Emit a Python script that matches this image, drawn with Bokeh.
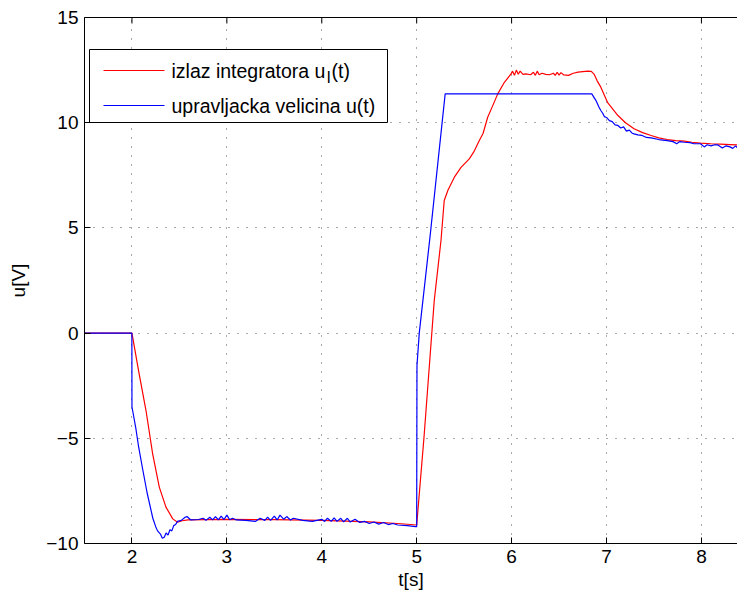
from bokeh.plotting import figure
from bokeh.models import LinearAxis, FixedTicker, Range1d
from bokeh.core.properties import value
from bokeh.embed import file_html
from bokeh.resources import INLINE

# ---- data ----
t_u = [1.5, 1.999, 2.0, 2.02, 2.04, 2.07, 2.11, 2.16, 2.20, 2.22, 2.25, 2.27, 2.30, 2.32, 2.34,
       2.36, 2.38, 2.40, 2.42, 2.44, 2.46, 2.48, 2.52, 2.56, 2.58, 2.62, 2.70,
       2.75, 2.78, 2.82, 2.85, 2.88, 2.91, 2.94, 2.97, 3.0, 3.03, 3.06, 3.1, 3.2, 3.3,
       3.35, 3.4, 3.43, 3.46, 3.5, 3.53, 3.56, 3.6, 3.63, 3.67, 3.7, 3.8, 3.9, 4.0,
       4.03, 4.06, 4.1, 4.13, 4.16, 4.2, 4.23, 4.27, 4.3, 4.35, 4.4, 4.45, 4.5, 4.55,
       4.6, 4.65, 4.7, 4.75, 4.8, 4.9, 4.99, 5.0, 5.003, 5.027, 5.14, 5.30, 6.845,
       6.889, 6.92, 6.94, 6.96, 6.977, 7.0, 7.03, 7.06, 7.09, 7.12, 7.15, 7.18, 7.21,
       7.24, 7.27, 7.29, 7.33, 7.37, 7.42, 7.47, 7.55, 7.64, 7.7, 7.74, 7.77, 7.82,
       7.88, 7.92, 7.99, 8.03, 8.06, 8.1, 8.14, 8.17, 8.22, 8.26, 8.3, 8.33, 8.36, 8.38, 8.4]
u = [0, 0, -3.5, -4.0, -4.5, -5.4, -6.4, -7.6, -8.4, -8.8, -9.2, -9.4, -9.55, -9.75, -9.7,
     -9.5, -9.6, -9.35, -9.4, -9.15, -9.1, -8.95, -8.9, -8.75, -8.72, -8.88, -8.86,
     -8.8, -8.9, -8.75, -8.88, -8.72, -8.88, -8.7, -8.86, -8.65, -8.87, -8.8, -8.88, -8.9, -8.95,
     -8.8, -8.9, -8.75, -8.9, -8.7, -8.88, -8.65, -8.85, -8.72, -8.88, -8.8, -8.9, -8.95, -8.85,
     -8.95, -8.8, -8.95, -8.78, -8.95, -8.8, -8.97, -8.8, -8.98, -8.85, -9.0, -8.95, -9.05, -8.98,
     -9.08, -9.0, -9.1, -9.05, -9.12, -9.15, -9.2, -9.2, -1.54, 0.0, 4.56, 11.37, 11.37,
     11.05, 10.75, 10.58, 10.45, 10.29, 10.25, 10.1, 10.05, 9.9, 9.87, 9.75, 9.8, 9.6,
     9.65, 9.5, 9.47, 9.42, 9.4, 9.3, 9.28, 9.2, 9.15, 9.1, 9.0, 9.1, 9.07,
     9.05, 9.0, 9.0, 8.85, 8.95, 8.9, 8.95, 8.95, 8.8, 8.9, 8.85, 8.78, 8.9, 8.8, 8.85]

t_ui = [1.5, 2.0, 2.07, 2.148, 2.218, 2.288, 2.358, 2.43, 2.48, 2.53, 2.59, 3.0, 3.5, 4.0,
        4.5, 4.8, 5.0, 5.077, 5.185, 5.256, 5.29, 5.33, 5.397, 5.467, 5.554, 5.60, 5.66,
        5.70, 5.748, 5.80, 5.854, 5.924, 5.994, 6.01, 6.03, 6.05, 6.07, 6.09, 6.12, 6.15,
        6.2, 6.23, 6.25, 6.27, 6.29, 6.32, 6.36, 6.4, 6.44, 6.46, 6.48, 6.5, 6.52, 6.55,
        6.6, 6.65, 6.7, 6.75, 6.8, 6.84, 6.87, 6.9, 6.94, 7.01, 7.12, 7.2, 7.29, 7.38,
        7.47, 7.55, 7.64, 7.73, 7.82, 7.9, 7.99, 8.1, 8.2, 8.3, 8.4]
ui = [0, 0, -1.8, -3.68, -5.74, -7.32, -8.27, -8.83, -8.99, -8.92, -8.88, -8.85, -8.87, -8.9,
      -8.97, -9.05, -9.12, -4.95, 1.55, 4.4, 6.3, 6.8, 7.41, 7.88, 8.28, 8.6, 9.15,
      9.5, 10.26, 10.8, 11.37, 11.92, 12.32, 12.45, 12.25, 12.5, 12.3, 12.45, 12.3, 12.32,
      12.28, 12.4, 12.25, 12.45, 12.28, 12.35, 12.3, 12.28, 12.35, 12.25, 12.4, 12.26, 12.38, 12.27,
      12.25, 12.35, 12.4, 12.43, 12.45, 12.44, 12.3, 12.0, 11.69, 10.97, 10.34, 10.0, 9.71, 9.53,
      9.39, 9.28, 9.2, 9.15, 9.12, 9.07, 9.03, 9.0, 8.98, 8.96, 8.94]

x_ticks = [2, 3, 4, 5, 6, 7, 8]
y_ticks = [-10, -5, 0, 5, 10, 15]
legend_labels = ["izlaz integratora u", "upravljacka velicina u(t)"]
legend_subscript = "I"
legend_suffix = "(t)"
legend_colors = ["#ff0000", "#0000ff"]

FONT = "Liberation Sans"
W, H = 737, 593
BL, BT, BB = 84, 17, 50
X0, X1, Y0, Y1 = 1.5, 8.38, -10, 15
FW, FH = W - BL, H - BT - BB


def px_to_x(px):
    return X0 + (px - BL) * (X1 - X0) / FW


def py_to_y(py):
    return Y1 - (py - BT) * (Y1 - Y0) / FH


p = figure(width=W, height=H, x_range=Range1d(X0, X1), y_range=Range1d(Y0, Y1),
           output_backend="svg", toolbar_location=None,
           min_border_left=BL, min_border_right=0, min_border_top=BT, min_border_bottom=BB,
           x_axis_label="t[s]", y_axis_label="u[V]")
p.outline_line_color = None
p.background_fill_color = "white"
p.border_fill_color = "white"

r_ui = p.line(t_ui, ui, line_color=legend_colors[0], line_width=1.2)
r_u = p.line(t_u, u, line_color=legend_colors[1], line_width=1.2)

for ax, ticks in ((p.xaxis[0], x_ticks), (p.yaxis[0], y_ticks)):
    ax.ticker = FixedTicker(ticks=ticks)
    ax.minor_tick_line_color = None
    ax.major_tick_in = 6
    ax.major_tick_out = 0
    ax.axis_line_color = "black"
    ax.major_tick_line_color = "black"
    ax.major_label_text_font = FONT
    ax.major_label_text_font_size = "19px"
    ax.major_label_text_color = "black"
    ax.axis_label_text_font = FONT
    ax.axis_label_text_font_size = "19px"
    ax.axis_label_text_font_style = "normal"
    ax.axis_label_text_color = "black"

p.xaxis.major_label_standoff = 6
p.xaxis.axis_label_standoff = 3
p.yaxis.major_label_standoff = 6
p.yaxis.axis_label_standoff = 14
p.yaxis.major_label_overrides = {-10: "\u221210", -5: "\u22125"}

# top border of the box (axis line only) with inward ticks
top = LinearAxis(ticker=FixedTicker(ticks=[]))
top.minor_tick_line_color = None
top.major_tick_line_color = None
top.axis_line_color = "black"
p.add_layout(top, "above")
p.segment(x0=x_ticks, x1=x_ticks, y0=[Y1] * len(x_ticks), y1=[py_to_y(BT + 6)] * len(x_ticks),
          line_color="black", line_width=1)

for g in (p.xgrid[0], p.ygrid[0]):
    g.grid_line_color = "#555555"
    g.grid_line_dash = "1 8"
    g.grid_line_width = 1
p.xgrid.ticker = FixedTicker(ticks=x_ticks)
p.ygrid.ticker = FixedTicker(ticks=y_ticks)

# ---- legend box drawn by hand (to allow the subscript) ----
p.quad(left=[px_to_x(89)], right=[px_to_x(387)], top=[py_to_y(49)], bottom=[py_to_y(122)],
       fill_color="white", line_color="black", line_width=1)
rows_py = [70, 105]
for c, py in zip(legend_colors, rows_py):
    p.segment(x0=[px_to_x(103)], x1=[px_to_x(164)], y0=[py_to_y(py)], y1=[py_to_y(py)],
              line_color=c, line_width=1.2)
p.text(x=[px_to_x(171), px_to_x(171)], y=[py_to_y(rows_py[0]), py_to_y(rows_py[1])],
       text=legend_labels, text_font=value(FONT), text_font_size=value("19.5px"),
       text_baseline="middle", text_align="left", text_color="black")
p.text(x=[px_to_x(326)], y=[py_to_y(77)], text=[legend_subscript],
       text_font=value(FONT), text_font_size=value("16px"), text_baseline="middle",
       text_align="left", text_color="black")
p.text(x=[px_to_x(331)], y=[py_to_y(rows_py[0])], text=[legend_suffix],
       text_font=value(FONT), text_font_size=value("19.5px"), text_baseline="middle",
       text_align="left", text_color="black")

open("out.html", "w").write(file_html(p, INLINE))
